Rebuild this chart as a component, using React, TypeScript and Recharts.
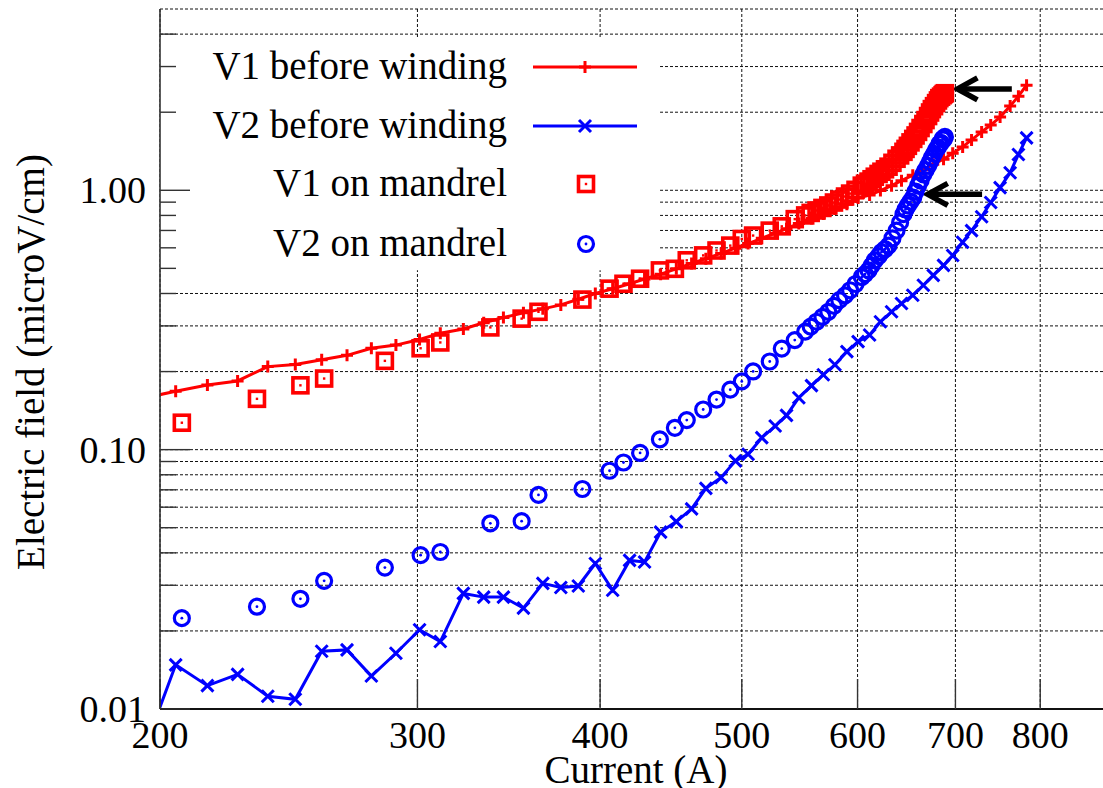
import React from 'react';
import {
  ComposedChart,
  Line,
  Scatter,
  XAxis,
  YAxis,
  CartesianGrid,
  ReferenceArea,
  ReferenceLine,
} from 'recharts';

const FONT = '"Liberation Serif", "DejaVu Serif", serif';
const RED = '#ff0000';
const BLUE = '#0000ff';
const AXIS = '#333333';

// "before winding" runs share the same current steps (A)
const beforeCurrent = [
  194, 205, 215.5, 226, 237, 247.5, 258, 268.5, 279, 290, 301, 311, 322.5, 333, 343.5, 354.5,
  365.5, 376, 386.5, 397, 408, 419, 429, 440, 451, 462, 472.5, 484, 495, 505, 516, 527, 536.5,
  547, 558, 568.5, 579, 590, 600.5, 611.5, 622, 633, 643, 654.5, 665.5, 676, 687, 697, 708,
  718, 729.5, 740, 751, 763, 773, 783,
];
const v1Before = [
  0.157, 0.168, 0.1775, 0.184, 0.209, 0.213, 0.222, 0.231, 0.246, 0.253, 0.266, 0.281, 0.292,
  0.3085, 0.323, 0.337, 0.349, 0.3615, 0.38, 0.4, 0.417, 0.436, 0.455, 0.475, 0.498, 0.522,
  0.545, 0.571, 0.598, 0.623, 0.653, 0.683, 0.711, 0.744, 0.778, 0.811, 0.847, 0.884, 0.934,
  0.959, 0.997, 1.042, 1.089, 1.144, 1.2, 1.26, 1.317, 1.388, 1.47, 1.564, 1.679, 1.785, 1.916,
  2.111, 2.306, 2.541,
];
const v2Before = [
  0.0064, 0.0148, 0.0123, 0.0136, 0.0112, 0.0109, 0.0167, 0.0169, 0.0134, 0.0164, 0.0202,
  0.0182, 0.0279, 0.027, 0.027, 0.0245, 0.0305, 0.0294, 0.0298, 0.0364, 0.0287, 0.0374, 0.0369,
  0.0481, 0.0528, 0.0591, 0.0709, 0.0781, 0.0905, 0.096, 0.1112, 0.1233, 0.1355, 0.1585,
  0.1765, 0.1945, 0.2124, 0.2388, 0.2609, 0.2767, 0.3112, 0.34, 0.3658, 0.3939, 0.4302, 0.4699,
  0.5133, 0.5606, 0.6305, 0.6991, 0.7909, 0.8973, 1.024, 1.169, 1.374, 1.592,
];

// "on mandrel" runs (dense near the quench)
const mandrelCurrent = [
  207, 233, 249.5, 259, 285, 301.5, 311, 336.5, 353.5, 363, 389, 406, 415, 426, 439.5, 450,
  458.5, 470.5, 480.5, 491, 500, 509, 522.5, 532.5, 543.5, 552.5, 557.3, 562.5, 567.7, 573,
  578.1, 583, 588.3, 593, 598.1, 604, 607.1, 610.5, 613.4, 616.5, 620.2, 623, 626.5, 630,
  633.9, 638, 641.6, 645, 647.1, 649.5, 652.2, 655, 657.4, 660, 662.6, 665.5, 667.8, 670.5,
  672.6, 674.5, 676.8, 679, 681, 682.5, 684.3, 686, 687.2, 688.5,
];
const v1Mandrel = [
  0.127, 0.157, 0.177, 0.188, 0.22, 0.246, 0.259, 0.296, 0.32, 0.34, 0.379, 0.4175, 0.436,
  0.456, 0.491, 0.498, 0.537, 0.561, 0.586, 0.612, 0.649, 0.669, 0.699, 0.726, 0.774, 0.8,
  0.818, 0.836, 0.855, 0.874, 0.897, 0.921, 0.946, 0.971, 1.004, 1.042, 1.06, 1.08, 1.103,
  1.128, 1.156, 1.179, 1.205, 1.233, 1.276, 1.323, 1.363, 1.407, 1.444, 1.484, 1.53, 1.578,
  1.627, 1.679, 1.738, 1.801, 1.865, 1.933, 1.995, 2.056, 2.11, 2.168, 2.22, 2.266, 2.296,
  2.326, 2.35, 2.367,
];
const v2Mandrel = [
  0.0224, 0.0248, 0.0266, 0.0312, 0.0351, 0.0392, 0.0403, 0.052, 0.053, 0.0669, 0.0705, 0.0829,
  0.0892, 0.0971, 0.1096, 0.1214, 0.13, 0.1428, 0.156, 0.1703, 0.1833, 0.2002, 0.2187, 0.2453,
  0.2644, 0.285, 0.298, 0.3112, 0.325, 0.34, 0.3584, 0.377, 0.3932, 0.4117, 0.4352, 0.4629,
  0.4753, 0.4912, 0.5124, 0.5365, 0.5572, 0.5772, 0.5927, 0.6119, 0.653, 0.6991, 0.752, 0.8091,
  0.8436, 0.8739, 0.905, 0.9376, 0.989, 1.042, 1.089, 1.152, 1.195, 1.243, 1.288, 1.335, 1.382,
  1.432, 1.464, 1.51, 1.523, 1.578, 1.571, 1.606,
];

const xTicks = [200, 300, 400, 500, 600, 700, 800];
const yTicks = [
  0.01, 0.02, 0.03, 0.04, 0.05, 0.06, 0.07, 0.08, 0.09, 0.1, 0.2, 0.3, 0.4, 0.5, 0.6, 0.7, 0.8,
  0.9, 1, 2, 3, 4,
];
const yMajorTicks = [0.01, 0.1, 1];
const yMajorLabels = ['0.01', '0.10', '1.00'];

const legendLabels = ['V1 before winding', 'V2 before winding', 'V1 on mandrel', 'V2 on mandrel'];

// arrows pointing at the quench ends: [tail current, tip current, field]
const arrows = [
  [765, 700, 2.46],
  [730, 668, 0.965],
];

// white key box in data coords
const keyBoxX = [200, 439.6];
const keyBoxY = [0.492, 3.85];

const toPoints = (xs: number[], ys: number[]) => xs.map((x, i) => ({ x, y: ys[i] }));

const PlusDot = (p: any) => {
  if (p.cx == null || p.cy == null) return <g key={p.index} />;
  return (
    <path
      key={p.index}
      d={`M${p.cx - 6},${p.cy}h12M${p.cx},${p.cy - 6}v12`}
      stroke={RED}
      strokeWidth={3}
      fill="none"
    />
  );
};

const CrossDot = (p: any) => {
  if (p.cx == null || p.cy == null) return <g key={p.index} />;
  return (
    <path
      key={p.index}
      d={`M${p.cx - 6},${p.cy - 6}l12,12M${p.cx - 6},${p.cy + 6}l12,-12`}
      stroke={BLUE}
      strokeWidth={3}
      fill="none"
    />
  );
};

const SquareMark = (p: any) => (
  <g>
    <rect x={p.cx - 7.5} y={p.cy - 7.5} width={15} height={15} fill="none" stroke={RED} strokeWidth={3.6} />
    <rect x={p.cx - 1.2} y={p.cy - 1.2} width={2.4} height={2.4} fill={RED} />
  </g>
);

const CircleMark = (p: any) => (
  <g>
    <circle cx={p.cx} cy={p.cy} r={7.5} fill="none" stroke={BLUE} strokeWidth={3.2} />
    <circle cx={p.cx} cy={p.cy} r={1.4} fill={BLUE} />
  </g>
);

const YTick = (p: any) => {
  const i = yMajorTicks.indexOf(p.payload.value);
  const major = i >= 0;
  return (
    <g>
      <line x1={p.x} x2={p.x + (major ? 30 : 16)} y1={p.y} y2={p.y} stroke={AXIS} strokeWidth={1.4} />
      {major && (
        <text x={p.x - 14} y={p.y + 13} textAnchor="end" fontFamily={FONT} fontSize={38} fill="#000">
          {yMajorLabels[i]}
        </text>
      )}
    </g>
  );
};

const XTick = (p: any) => (
  <g>
    <line x1={p.x} x2={p.x} y1={p.y} y2={p.y - 30} stroke={AXIS} strokeWidth={1.4} />
    <text x={p.x} y={p.y + 39} textAnchor="middle" fontFamily={FONT} fontSize={38} fill="#000">
      {p.payload.value}
    </text>
  </g>
);

const TopTick = (p: any) => (
  <line x1={p.x} x2={p.x} y1={p.y} y2={p.y + 30} stroke={AXIS} strokeWidth={1.4} />
);

const ArrowShape = (p: any) => {
  const { x1, x2, y2 } = p;
  return (
    <g>
      <line x1={x1} y1={y2} x2={x2 + 4} y2={y2} stroke="#000" strokeWidth={5.5} />
      <path
        d={`M${x2 + 22},${y2 - 11} L${x2 + 2},${y2} L${x2 + 22},${y2 + 11}`}
        fill="none"
        stroke="#000"
        strokeWidth={5.5}
      />
    </g>
  );
};

const KeyOverlay = () => {
  const rows = [67, 126, 184, 244];
  return (
    <svg
      width={1103}
      height={788}
      style={{ position: 'absolute', left: 0, top: 0, pointerEvents: 'none' }}
    >
      {legendLabels.map((label, i) => (
        <text
          key={label}
          x={507}
          y={rows[i] + 12}
          textAnchor="end"
          fontFamily={FONT}
          fontSize={39}
          fill="#000"
        >
          {label}
        </text>
      ))}
      <line x1={533} x2={637} y1={rows[0]} y2={rows[0]} stroke={RED} strokeWidth={3} />
      <PlusDot cx={585} cy={rows[0]} />
      <line x1={533} x2={637} y1={rows[1]} y2={rows[1]} stroke={BLUE} strokeWidth={3} />
      <CrossDot cx={585} cy={rows[1]} />
      <SquareMark cx={586} cy={rows[2]} />
      <CircleMark cx={586} cy={rows[3]} />
      <text x={636} y={783} textAnchor="middle" fontFamily={FONT} fontSize={39} fill="#000">
        Current (A)
      </text>
      <text
        x={44}
        y={362}
        textAnchor="middle"
        fontFamily={FONT}
        fontSize={39}
        fill="#000"
        transform="rotate(-90 44 362)"
      >
        Electric field (microV/cm)
      </text>
    </svg>
  );
};

export default function App() {
  const v1BeforeData = toPoints(beforeCurrent, v1Before);
  const v2BeforeData = toPoints(beforeCurrent, v2Before);
  const v1MandrelData = toPoints(mandrelCurrent, v1Mandrel);
  const v2MandrelData = toPoints(mandrelCurrent, v2Mandrel);

  return (
    <div
      style={{
        position: 'absolute',
        left: 0,
        top: 0,
        width: 1103,
        height: 788,
        overflow: 'hidden',
        background: '#fff',
      }}
    >
      <ComposedChart width={1115} height={788} margin={{ top: 9, right: 0, bottom: 0, left: 0 }}>
        <CartesianGrid stroke="#111" strokeWidth={1} strokeDasharray="3 2" />
        <ReferenceArea
          x1={keyBoxX[0]}
          x2={keyBoxX[1]}
          y1={keyBoxY[0]}
          y2={keyBoxY[1]}
          fill="#fff"
          fillOpacity={1}
          stroke="none"
          ifOverflow="visible"
        />
        <XAxis
          dataKey="x"
          type="number"
          scale="log"
          domain={[200, 900]}
          allowDataOverflow
          ticks={xTicks}
          interval={0}
          height={79}
          tickSize={0}
          tickMargin={0}
          tickLine={false}
          tick={(p: any) => <XTick {...p} />}
          axisLine={{ stroke: '#111', strokeWidth: 2 }}
        />
        <XAxis
          xAxisId="top"
          orientation="top"
          type="number"
          scale="log"
          domain={[200, 900]}
          allowDataOverflow
          ticks={xTicks}
          interval={0}
          height={0}
          tickSize={0}
          tickMargin={0}
          tickLine={false}
          tick={(p: any) => <TopTick {...p} />}
          axisLine={{ stroke: AXIS, strokeWidth: 1.6 }}
        />
        <YAxis
          dataKey="y"
          type="number"
          scale="log"
          domain={[0.01, 5]}
          allowDataOverflow
          ticks={yTicks}
          interval={0}
          width={160}
          tickSize={0}
          tickMargin={0}
          tickLine={false}
          tick={(p: any) => <YTick {...p} />}
          axisLine={{ stroke: AXIS, strokeWidth: 1.6 }}
        />
        <Line
          data={v1BeforeData}
          dataKey="y"
          type="linear"
          stroke={RED}
          strokeWidth={3}
          dot={PlusDot}
          activeDot={false}
          isAnimationActive={false}
        />
        <Line
          data={v2BeforeData}
          dataKey="y"
          type="linear"
          stroke={BLUE}
          strokeWidth={3}
          dot={CrossDot}
          activeDot={false}
          isAnimationActive={false}
        />
        <Scatter data={v1MandrelData} dataKey="y" shape={SquareMark} isAnimationActive={false} />
        <Scatter data={v2MandrelData} dataKey="y" shape={CircleMark} isAnimationActive={false} />
        {arrows.map(([tail, tip, y], i) => (
          <ReferenceLine
            key={i}
            segment={[
              { x: tail, y },
              { x: tip, y },
            ]}
            shape={(p: any) => <ArrowShape {...p} />}
            ifOverflow="visible"
          />
        ))}
      </ComposedChart>
      <KeyOverlay />
    </div>
  );
}
